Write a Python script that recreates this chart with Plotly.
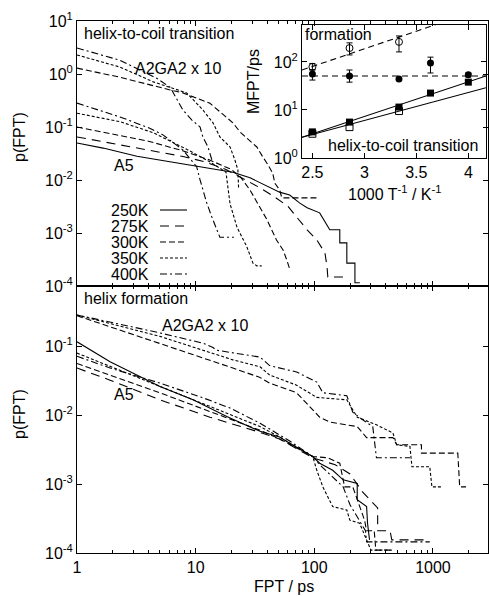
import plotly.graph_objects as go

# ---------------- DATA ----------------
# Top panel: helix-to-coil transition (FPT in ps, p(FPT))
top_a5_250_x = [1, 1.66, 3.2, 6, 10.9, 20.6, 28.7, 42, 51, 62, 75, 87, 111, 135, 164, 164, 188, 188, 220, 220, 242]
top_a5_250_y = [0.050, 0.040, 0.028, 0.022, 0.018, 0.014, 0.011, 0.0074, 0.0059, 0.0052, 0.0037, 0.0030, 0.0024,
                0.00115, 0.00115, 0.00065, 0.00065, 0.00027, 0.00027, 0.000115, 0.000115]
top_a5_275_x = [1, 2, 4, 8, 12, 18, 24, 35, 45, 60, 71, 87, 105, 123, 128, 130, 188]
top_a5_275_y = [0.065, 0.049, 0.037, 0.0275, 0.022, 0.0158, 0.0112, 0.0071, 0.0050, 0.0032, 0.0020, 0.00115,
                0.00074, 0.00042, 0.00023, 0.000148, 0.000148]
top_a5_300_x = [1, 2, 4, 8, 13, 20, 24, 28.7, 34.9, 39.8, 48, 54.5, 58.6, 62.5]
top_a5_300_y = [0.100, 0.074, 0.054, 0.035, 0.024, 0.0158, 0.0112, 0.0065, 0.0031, 0.0018, 0.00074, 0.00048,
                0.00031, 0.00020]
top_a5_350_x = [1, 2.3, 4.4, 8.4, 13, 18, 19.5, 22.3, 27, 30.4, 32.8, 36]
top_a5_350_y = [0.182, 0.126, 0.078, 0.038, 0.0224, 0.0141, 0.00355, 0.00129, 0.00055, 0.00027, 0.00024, 0.00024]
top_a5_400_x = [1, 2.3, 4.1, 5.3, 7.8, 10.2, 10.9, 12.4, 13.7, 15, 16, 21]
top_a5_400_y = [0.282, 0.155, 0.095, 0.071, 0.037, 0.0178, 0.010, 0.0037, 0.0020, 0.00115, 0.00083, 0.00083]

top_a2_300_x = [1, 2.3, 6.1, 7.8, 13.2, 17, 20.6, 23.6, 28.7, 32.8, 36.9, 39.8, 44.6, 46.5, 51, 53.3, 105]
top_a2_300_y = [1.29, 0.87, 0.50, 0.44, 0.28, 0.17, 0.12, 0.081, 0.056, 0.042, 0.027, 0.021, 0.0135, 0.0087,
                0.0065, 0.0046, 0.0046]
top_a2_350_x = [1, 2.3, 4.4, 6.1, 8.4, 11.5, 14, 16, 19.5, 21.4, 22.7, 23]
top_a2_350_y = [2.29, 1.35, 0.71, 0.56, 0.44, 0.21, 0.12, 0.065, 0.042, 0.024, 0.0155, 0.0071]
top_a2_400_x = [1, 2.3, 4.7, 6.1, 7.8, 9.3, 10.9, 11.5, 12.7, 13.7]
top_a2_400_y = [3.09, 1.82, 0.83, 0.56, 0.21, 0.135, 0.10, 0.065, 0.042, 0.024]

# Bottom panel: helix formation
bot_a2_300_x = [1, 5, 11.5, 20.6, 34.9, 42, 71, 111, 135, 230, 276, 460, 495, 800, 800, 1620, 1680, 1900]
bot_a2_300_y = [0.275, 0.110, 0.068, 0.048, 0.035, 0.029, 0.021, 0.0093, 0.0079, 0.0068, 0.0047, 0.0047,
                0.0037, 0.0037, 0.0028, 0.0028, 0.00091, 0.00091]
bot_a2_350_x = [1, 5, 11.5, 20.6, 34.9, 42, 71, 105, 188, 230, 334, 460, 495, 640, 665, 940, 980, 1200]
bot_a2_350_y = [0.282, 0.138, 0.087, 0.063, 0.050, 0.038, 0.027, 0.018, 0.0166, 0.0093, 0.0072, 0.0055,
                0.0037, 0.0035, 0.00178, 0.00178, 0.00091, 0.00091]
bot_a2_400_x = [1, 5, 11.5, 14, 15, 20.6, 34.9, 42, 71, 105, 118, 188, 211, 256, 311, 334, 640]
bot_a2_400_y = [0.282, 0.155, 0.110, 0.095, 0.087, 0.079, 0.069, 0.052, 0.042, 0.030, 0.021, 0.019, 0.011,
                0.0085, 0.0068, 0.0024, 0.0024]

bot_a5_250_x = [1, 1.9, 5, 9.5, 18.3, 34.9, 51, 62, 97, 111, 143, 175, 230, 230, 276, 281, 292]
bot_a5_250_y = [0.115, 0.059, 0.026, 0.0166, 0.0095, 0.0058, 0.0048, 0.0039, 0.0025, 0.0020, 0.00158,
                0.00115, 0.00102, 0.00059, 0.00047, 0.00027, 0.000155]
bot_a5_275_x = [1, 1.9, 5, 13.2, 34.9, 51, 97, 150, 200, 256, 342, 342, 435, 450, 905]
bot_a5_275_y = [0.048, 0.032, 0.0166, 0.0093, 0.0056, 0.0045, 0.0024, 0.0019, 0.0014, 0.00076, 0.00045,
                0.00021, 0.00021, 0.000155, 0.000155]
bot_a5_300_x = [1, 5, 34.9, 51, 97, 130, 164, 180, 211, 241, 265, 276, 320, 330, 440]
bot_a5_300_y = [0.056, 0.021, 0.0060, 0.0045, 0.0025, 0.0024, 0.0020, 0.00091, 0.00091, 0.00047, 0.0003,
                0.00021, 0.00021, 0.00011, 0.00011]
bot_a5_350_x = [1, 5, 13.2, 34.9, 51, 97, 105, 118, 143, 188, 199, 241, 276, 300, 450]
bot_a5_350_y = [0.079, 0.026, 0.0132, 0.0068, 0.0048, 0.0025, 0.00158, 0.00091, 0.00047, 0.00042, 0.0003,
                0.00027, 0.000155, 0.00011, 0.00011]
bot_a5_400_x = [1, 1.9, 5, 11.5, 19.5, 34.9, 62, 97, 111, 143, 175, 200, 240, 270, 276, 940]
bot_a5_400_y = [0.071, 0.048, 0.029, 0.0178, 0.0126, 0.0076, 0.0042, 0.0025, 0.0019, 0.00126, 0.00091,
                0.0005, 0.0003, 0.00021, 0.000145, 0.000145]

# Inset: MFPT vs 1000/T
inv_T = [2.5, 2.857, 3.333, 3.636, 4.0]
inv_T_a2 = [2.5, 2.857, 3.333]
form_a5 = [56, 51, 44, 95, 54]
form_a5_err_plus = [12, 17, 0, 31, 5]
form_a5_err_minus = [14, 13, 0, 36, 5]
form_a2 = [79, 195, 262]
form_a2_err_plus = [14, 55, 86]
form_a2_err_minus = [10, 55, 100]
unf_a5 = [3.5, 5.6, 11.5, 22.5, 38]
unf_a2 = [3.2, 4.4, 9.5]
fit_x = [2.4, 4.17]
fit_form_a2 = [68, 1360]
fit_form_a5 = [51, 51]
fit_unf_a5 = [2.7, 51]
fit_unf_a2 = [2.7, 29]

temps = ["250K", "275K", "300K", "350K", "400K"]
main_xticks = [1, 10, 100, 1000]
main_xticklabels = ["1", "10", "100", "1000"]
minor_x = [2, 3, 4, 5, 6, 7, 8, 9, 20, 30, 40, 50, 60, 70, 80, 90, 200, 300, 400, 500, 600, 700, 800, 900, 2000]
top_yticks = [10, 1, 0.1, 0.01, 0.001, 0.0001]
top_yticklabels = ["10<sup>1</sup>", "10<sup>0</sup>", "10<sup>-1</sup>", "10<sup>-2</sup>", "10<sup>-3</sup>", "10<sup>-4</sup>"]
bot_yticks = [0.1, 0.01, 0.001, 0.0001]
bot_yticklabels = ["10<sup>-1</sup>", "10<sup>-2</sup>", "10<sup>-3</sup>", "10<sup>-4</sup>"]
inset_xticks = [2.5, 3, 3.5, 4]
inset_xticklabels = ["2.5", "3", "3.5", "4"]
inset_yticks = [1, 10, 100]
inset_yticklabels = ["10<sup>0</sup>", "10<sup>1</sup>", "10<sup>2</sup>"]

# ---------------- STYLE ----------------
FONT = "Liberation Sans, Helvetica, Arial, sans-serif"
DASH = {"250K": "solid", "275K": "9px,6px", "300K": "6px,3px", "350K": "3px,2px", "400K": "7px,3px,2px,3px"}
W, H = 489, 596
ML, MR, MT, MB = 77, 1, 21, 43
PW, PH = W - ML - MR, H - MT - MB


def px(x, y):
    return (x - ML) / PW, (H - MB - y) / PH


fig = go.Figure()


def add_curve(x, y, temp, xa, ya):
    fig.add_trace(go.Scatter(x=x, y=y, mode="lines", xaxis=xa, yaxis=ya, showlegend=False,
                             line=dict(color="black", width=1.1, dash=DASH[temp])))


for xs, ys, t in [(top_a5_250_x, top_a5_250_y, "250K"), (top_a5_275_x, top_a5_275_y, "275K"),
                  (top_a5_300_x, top_a5_300_y, "300K"), (top_a5_350_x, top_a5_350_y, "350K"),
                  (top_a5_400_x, top_a5_400_y, "400K"), (top_a2_300_x, top_a2_300_y, "300K"),
                  (top_a2_350_x, top_a2_350_y, "350K"), (top_a2_400_x, top_a2_400_y, "400K")]:
    add_curve(xs, ys, t, "x", "y")

for xs, ys, t in [(bot_a5_250_x, bot_a5_250_y, "250K"), (bot_a5_275_x, bot_a5_275_y, "275K"),
                  (bot_a5_300_x, bot_a5_300_y, "300K"), (bot_a5_350_x, bot_a5_350_y, "350K"),
                  (bot_a5_400_x, bot_a5_400_y, "400K"), (bot_a2_300_x, bot_a2_300_y, "300K"),
                  (bot_a2_350_x, bot_a2_350_y, "350K"), (bot_a2_400_x, bot_a2_400_y, "400K")]:
    add_curve(xs, ys, t, "x2", "y2")

# inset fit lines
for fy, dash in [(fit_form_a2, "6px,4px"), (fit_form_a5, "6px,4px"), (fit_unf_a5, "solid"), (fit_unf_a2, "solid")]:
    fig.add_trace(go.Scatter(x=fit_x, y=fy, mode="lines", xaxis="x3", yaxis="y3", showlegend=False,
                             line=dict(color="black", width=1.1, dash=dash)))
# inset markers
fig.add_trace(go.Scatter(x=inv_T_a2, y=form_a2, mode="markers", xaxis="x3", yaxis="y3", showlegend=False,
                         marker=dict(symbol="circle-open", size=7, color="black", line=dict(width=1)),
                         error_y=dict(type="data", symmetric=False, array=form_a2_err_plus,
                                      arrayminus=form_a2_err_minus, color="black", thickness=1, width=3)))
fig.add_trace(go.Scatter(x=inv_T, y=form_a5, mode="markers", xaxis="x3", yaxis="y3", showlegend=False,
                         marker=dict(symbol="circle", size=7, color="black"),
                         error_y=dict(type="data", symmetric=False, array=form_a5_err_plus,
                                      arrayminus=form_a5_err_minus, color="black", thickness=1, width=3)))
fig.add_trace(go.Scatter(x=inv_T_a2, y=unf_a2, mode="markers", xaxis="x3", yaxis="y3", showlegend=False,
                         marker=dict(symbol="square-open", size=7, color="black", line=dict(width=1))))
fig.add_trace(go.Scatter(x=inv_T, y=unf_a5, mode="markers", xaxis="x3", yaxis="y3", showlegend=False,
                         marker=dict(symbol="square", size=7, color="black")))

split = px(0, 286)[1]
axis_common = dict(showline=True, linecolor="black", linewidth=1, mirror="ticks", ticks="inside",
                   tickcolor="black", tickwidth=1, showgrid=False, zeroline=False, automargin=False,
                   tickfont=dict(family=FONT, size=16, color="black"))
minor = dict(tickvals=minor_x, ticks="inside", ticklen=3, tickcolor="black", tickwidth=1, showgrid=False)

inx0, iny0 = px(302, 158)
inx1, iny1 = px(486, 25)

fig.update_layout(
    width=W, height=H, autosize=False,
    margin=dict(l=ML, r=MR, t=MT, b=MB, autoexpand=False),
    paper_bgcolor="white", plot_bgcolor="rgba(0,0,0,0)",
    font=dict(family=FONT, size=16, color="black"),
    xaxis=dict(axis_common, type="log", range=[0, 3.464], domain=[0, 1], anchor="y",
               tickvals=main_xticks, ticktext=main_xticklabels, showticklabels=False, ticklen=5, minor=minor),
    yaxis=dict(axis_common, type="log", range=[-4, 1], domain=[split, 1], anchor="x",
               tickvals=top_yticks, ticktext=top_yticklabels, ticklen=5),
    xaxis2=dict(axis_common, type="log", range=[0, 3.464], domain=[0, 1], anchor="y2",
                tickvals=main_xticks, ticktext=main_xticklabels, ticklen=5, minor=minor),
    yaxis2=dict(axis_common, type="log", range=[-4, -0.13], domain=[0, split], anchor="x2",
                tickvals=bot_yticks, ticktext=bot_yticklabels, ticklen=5),
    xaxis3=dict(axis_common, range=[2.4, 4.17], domain=[inx0, inx1], anchor="y3",
                tickvals=inset_xticks, ticktext=inset_xticklabels, ticklen=5),
    yaxis3=dict(axis_common, type="log", range=[0, 2.77], domain=[iny0, iny1], anchor="x3",
                tickvals=inset_yticks, ticktext=inset_yticklabels, ticklen=5),
)

ann = []


def text(t, x, y, xanchor="left", angle=0, size=16):
    xp, yp = px(x, y)
    ann.append(dict(text=t, x=xp, y=yp, xref="paper", yref="paper", xanchor=xanchor, yanchor="middle",
                    showarrow=False, textangle=angle, font=dict(family=FONT, size=size, color="black")))


text("helix-to-coil transition", 82, 33)
text("A2GA2 x 10", 133, 68)
text("A5", 112, 165)
text("helix formation", 82, 298)
text("A2GA2 x 10", 160, 325)
text("A5", 112, 395)
text("formation", 303, 34)
text("helix-to-coil transition", 480, 145, xanchor="right")
text("MFPT/ps", 253, 82, xanchor="center", angle=-90)
text("1000 T<sup>-1</sup> / K<sup>-1</sup>", 394, 193, xanchor="center")
text("p(FPT)", 19, 137, xanchor="center", angle=-90)
text("p(FPT)", 19, 414, xanchor="center", angle=-90)
text("FPT / ps", 284, 586, xanchor="center")

leg_y = [210, 226, 242, 258, 274]
shapes = []
for t, ly in zip(temps, leg_y):
    text(t, 151, ly, xanchor="right")
    x0, y0 = px(160, ly)
    x1, _ = px(187, ly)
    shapes.append(dict(type="line", xref="paper", yref="paper", x0=x0, x1=x1, y0=y0, y1=y0,
                       line=dict(color="black", width=1.1, dash=DASH[t])))

fig.update_layout(annotations=ann, shapes=shapes)
fig.write_html("out.html", config={"displayModeBar": False},
               post_script="document.body.style.margin='0px';document.body.style.padding='0px';"
                           "document.body.style.overflow='hidden';")
